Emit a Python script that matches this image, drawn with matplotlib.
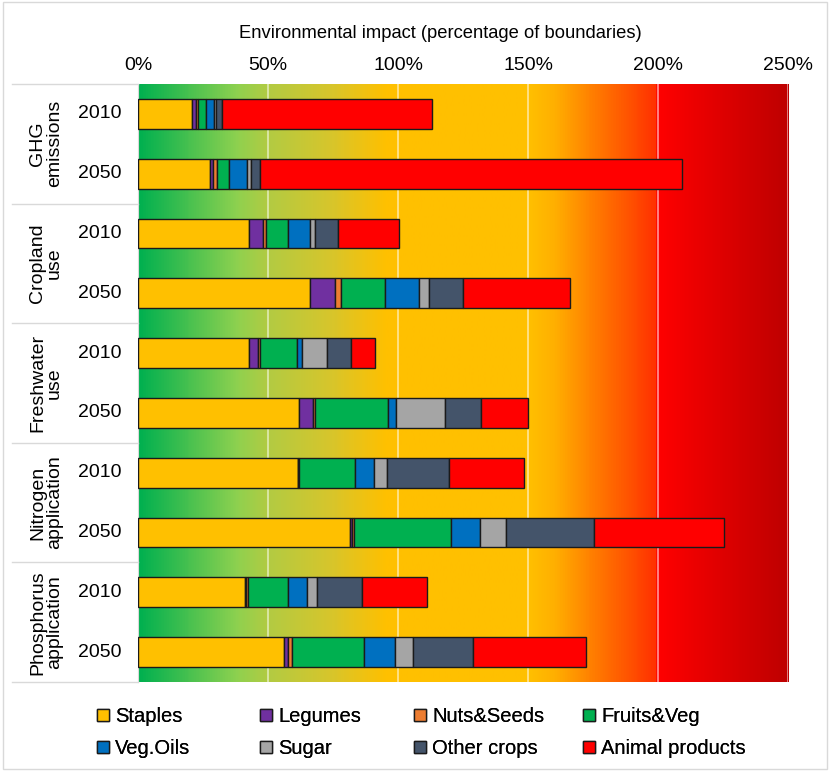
import numpy as np
import matplotlib.pyplot as plt
from matplotlib.colors import LinearSegmentedColormap
from matplotlib.patches import Patch, Rectangle
from matplotlib.lines import Line2D

plt.rcParams['font.family'] = ['Liberation Sans', 'DejaVu Sans']

# bars from top to bottom: each indicator, 2010 then 2050
groups = ['GHG\nemissions', 'Cropland\nuse', 'Freshwater\nuse',
          'Nitrogen\napplication', 'Phosphorus\napplication']
years = ['2010', '2050']

categories = ['Staples', 'Legumes', 'Nuts&Seeds', 'Fruits&Veg',
              'Veg.Oils', 'Sugar', 'Other crops', 'Animal products']
colors = ['#FFC000', '#7030A0', '#ED7D31', '#00B050',
          '#0070C0', '#A5A5A5', '#44546A', '#FF0000']

staples = [20.9, 27.7, 42.7, 66.2, 42.7, 61.8, 61.7, 81.5, 41.2, 56.0]
legumes = [1.3, 1.3, 5.5, 9.7, 3.3, 5.4, 0.0, 0.7, 0.5, 1.8]
nuts = [0.9, 1.3, 0.9, 2.2, 1.0, 0.9, 0.1, 0.7, 0.5, 1.6]
fruits_veg = [3.0, 4.7, 8.6, 16.9, 14.0, 28.2, 21.8, 37.6, 15.6, 27.7]
veg_oils = [3.1, 7.0, 8.5, 13.1, 2.2, 2.8, 7.0, 11.0, 7.1, 11.7]
sugar = [0.8, 1.3, 1.9, 3.8, 9.6, 19.0, 5.2, 9.9, 3.9, 7.1]
other_crops = [2.2, 3.6, 8.7, 13.0, 9.3, 13.8, 23.9, 33.9, 17.2, 23.1]
animal = [80.8, 162.3, 23.5, 41.3, 9.1, 18.2, 28.8, 50.0, 25.3, 43.2]

series = [staples, legumes, nuts, fruits_veg, veg_oils, sugar, other_crops, animal]
xticks = [0, 50, 100, 150, 200, 250]

fig = plt.figure(figsize=(8.3, 7.71), dpi=100)
ax = fig.add_axes([138/830, 1 - 682/771, 650/830, 598/771])

n = len(staples)
ypos = np.arange(n)

# background: green -> amber -> red
bg = LinearSegmentedColormap.from_list('bg', [
    (0.00, '#00B050'), (0.15, '#8ED14F'), (0.20, '#B3CB42'),
    (0.30, '#D9C52A'), (0.38, '#FFC000'), (0.60, '#FFC000'),
    (0.64, '#FFB000'), (0.69, '#FF8600'), (0.799, '#FF3000'),
    (0.80, '#FF0000'), (1.00, '#BE0000')])
ax.imshow(np.linspace(0, 1, 500)[None, :], cmap=bg, aspect='auto',
          extent=[0, 250, n - 0.5, -0.5], zorder=0, interpolation='bilinear')

for x in xticks:
    ax.axvline(x, color='white', alpha=0.6, lw=1.2, zorder=1)

left = np.zeros(n)
for vals, c, name in zip(series, colors, categories):
    ax.barh(ypos, vals, left=left, height=0.5, color=c, edgecolor='#1a1a1a',
            linewidth=1.0, zorder=3, label=name)
    left += np.array(vals)

ax.set_xlim(0, 250)
ax.set_ylim(n - 0.5, -0.5)
ax.xaxis.tick_top()
ax.set_xticks(xticks)
ax.set_xticklabels([f'{x}%' for x in xticks], fontsize=14)
ax.tick_params(axis='x', length=0, pad=7)
ax.set_yticks([])
for s in ['top', 'right', 'bottom']:
    ax.spines[s].set_visible(False)
ax.spines['left'].set_color('#D9D9D9')

fig.text(440/830, 1 - 34/771, 'Environmental impact (percentage of boundaries)',
         ha='center', va='center', fontsize=13.2)

# category table on the left
trans = ax.get_yaxis_transform()
xl = (12 - 138) / 650  # left edge in axes fraction
for g in range(len(groups) + 1):
    ax.add_line(Line2D([xl, 0], [2*g - 0.5, 2*g - 0.5], transform=trans,
                       color='#D9D9D9', lw=1, clip_on=False))
for g, name in enumerate(groups):
    ax.text((46 - 138) / 650, 2*g + 0.5, name, transform=trans, rotation=90,
            ha='center', va='center', multialignment='center', fontsize=14,
            linespacing=1.0)
    for k, yr in enumerate(years):
        ax.text((100 - 138) / 650, 2*g + k, yr, transform=trans,
                ha='center', va='center', fontsize=14)

# legend: 4 columns, row-wise order
handles = [Patch(facecolor=c, edgecolor='#1a1a1a', linewidth=1.0) for c in colors]
col_x = [97, 260, 414, 583]
for i, x in enumerate(col_x):
    leg = fig.legend([handles[i], handles[i + 4]], [categories[i], categories[i + 4]],
                     loc='upper left', bbox_to_anchor=(x/830, 1 - 707/771),
                     frameon=False, fontsize=14.5, handlelength=0.6,
                     handleheight=0.6, handletextpad=0.3, labelspacing=0.65,
                     borderaxespad=0, borderpad=0)
    fig.add_artist(leg)

fig.patches.append(Rectangle((3/830, 2/771), 824/830, 767/771, transform=fig.transFigure,
                             fill=False, edgecolor='#D9D9D9', lw=1))

fig.savefig('out.png', dpi=100)
